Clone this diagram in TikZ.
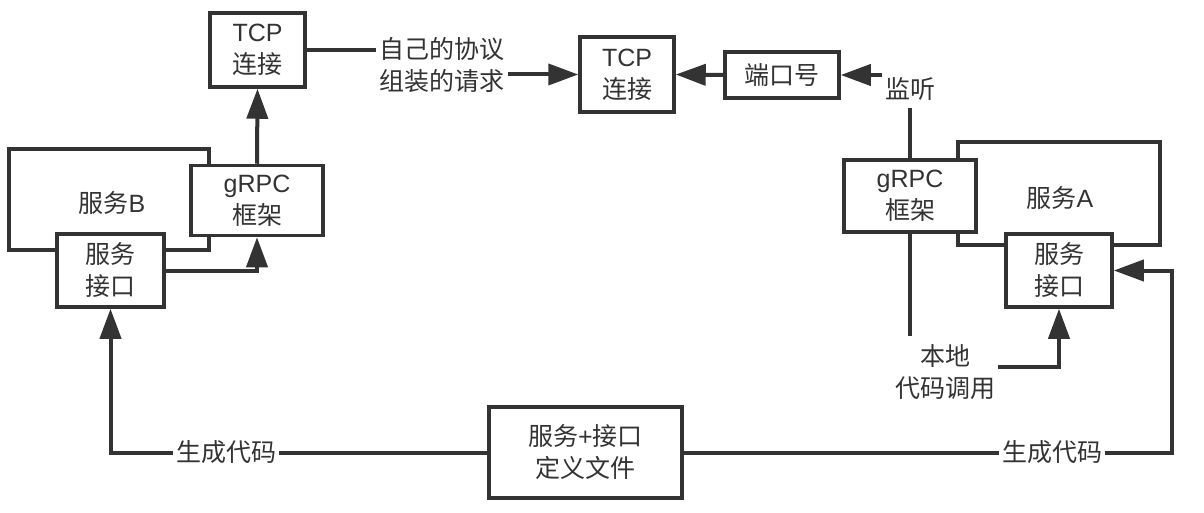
\documentclass[tikz,border=0pt]{standalone}
\usepackage{fontspec}
\setmainfont{Noto Sans CJK SC}
\newfontfamily\lat{Liberation Sans}
\usetikzlibrary{arrows.meta}
\definecolor{ink}{HTML}{333333}
\begin{document}
\begin{tikzpicture}[x=1pt,y=-1pt,
  every node/.style={text=ink, font=\fontsize{25}{32}\selectfont, align=center},
  box/.style={draw=ink, line width=3.5pt, fill=white, inner sep=0pt},
  frame/.style={draw=ink, line width=3.5pt},
  conn/.style={draw=ink, line width=4pt},
  arr/.style={conn, -{Triangle[length=30pt,width=21pt]}},
  lbl/.style={fill=white, inner sep=3pt}]
\useasboundingbox (0,0) rectangle (1204,513);
\fill[white] (0,0) rectangle (1204,513);

% service frames
\draw[frame] (9,149) rectangle (209,250);
\node (svcB) at (112,203) {服务{\lat B}};
\draw[frame] (958,142) rectangle (1160,245);
\node (svcA) at (1060,198) {服务{\lat A}};

% boxes
\node[box, minimum width=95pt, minimum height=74pt] (tcpB) at (257.5,50) {{\lat TCP}\\连接};
\node[box, minimum width=94pt, minimum height=75pt] (tcpC) at (627,74.5) {{\lat TCP}\\连接};
\node[box, minimum width=114pt, minimum height=46pt] (port) at (782,75) {端口号};
\node[box, minimum width=132pt, minimum height=70pt] (grpcB) at (257,200.5) {{\lat gRPC}\\框架};
\node[box, minimum width=107pt, minimum height=73pt] (ifaceB) at (110.5,270.5) {服务\\接口};
\node[box, minimum width=132pt, minimum height=72pt] (grpcA) at (910,196) {{\lat gRPC}\\框架};
\node[box, minimum width=106pt, minimum height=73pt] (ifaceA) at (1059,270.5) {服务\\接口};
\node[box, minimum width=193pt, minimum height=91pt] (def) at (585.5,452.5) {服务{\lat +}接口\\定义文件};

% coordinates
\coordinate (c1) at (910,367);
\coordinate (r1) at (1172,452.5);

% connectors
\draw[arr] (grpcB.north) -- (tcpB.south);
\draw[arr] (ifaceB.east) -| (grpcB.south);
\node (req) at (442,65.5) {自己的协议\\组装的请求};
\draw[conn] (tcpB.east) -- (tcpB.east -| req.west);
\draw[arr] (req.east |- tcpC.west) -- (tcpC.west);
\draw[arr] (port.west) -- (tcpC.east);
\draw[arr] (grpcA.north) -- (grpcA.north |- port.east) -- (port.east);
\node[lbl, inner ysep=8pt] (listen) at (910,89) {监听};
\draw[arr] (grpcA.south) -- (c1) -| (ifaceA.south);
\node[lbl, inner ysep=8pt] (local) at (945,372) {本地\\代码调用};
\draw[arr] (def.west) -| (ifaceB.south);
\node[lbl] (genL) at (226,452) {生成代码};
\draw[arr] (def.east) -- (r1) |- (ifaceA.east);
\node[lbl] (genR) at (1052,452) {生成代码};
\end{tikzpicture}
\end{document}
